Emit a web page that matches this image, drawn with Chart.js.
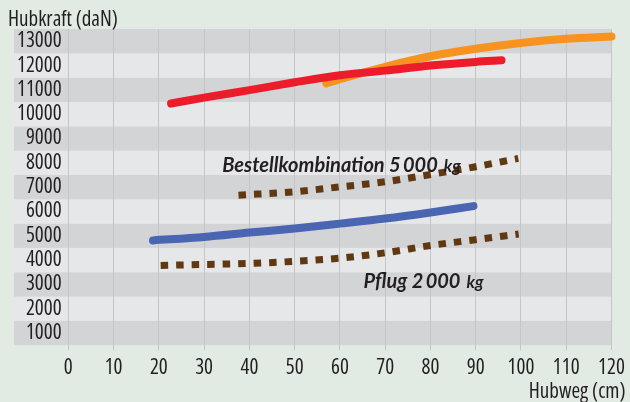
<!DOCTYPE html>
<html><head><meta charset="utf-8">
<script src="https://cdn.jsdelivr.net/npm/chart.js@4/dist/chart.umd.min.js"></script>
<style>html,body{margin:0;padding:0;background:#e1ebe4;}#wrap{width:630px;height:402px;}</style>
</head><body><div id="wrap"><canvas id="c" width="630" height="402"></canvas></div>
<script>
// ---- data ----
const xTicks = [0, 10, 20, 30, 40, 50, 60, 70, 80, 90, 100, 110, 120];
const yTicks = [1000, 2000, 3000, 4000, 5000, 6000, 7000, 8000, 9000, 10000, 11000, 12000, 13000];

const redX = [22.7, 30, 40, 50, 60, 70, 80, 90, 95.7];
const redY = [10440, 10680, 10990, 11310, 11600, 11790, 12000, 12150, 12215];

const orangeX = [57, 60, 70, 80, 90, 100, 110, 120];
const orangeY = [11265, 11440, 11950, 12380, 12690, 12930, 13100, 13190];

const blueX = [18.7, 30, 40, 50, 60, 70, 80, 89.5];
const blueY = [4810, 4950, 5130, 5300, 5500, 5710, 5960, 6220];

const bestellX = [37.6, 50, 60, 70, 80, 90, 99.4];
const bestellY = [6670, 6810, 7010, 7220, 7520, 7840, 8180];

const pflugX = [20.4, 30, 40, 50, 60, 70, 80, 90, 99.5];
const pflugY = [3780, 3820, 3860, 3950, 4080, 4300, 4600, 4840, 5070];

const labelMain = ['Bestellkombination 5\u2009000', 'Pflug 2\u2009000'];
const labelUnit = ['kg', 'kg'];

const yTitle = 'Hubkraft (daN)';
const xTitle = 'Hubweg (cm)';

// ---- build ----
const pts = (xs, ys) => xs.map((v, i) => ({x: v, y: ys[i]}));
const F = "'Open Sans', 'Noto Sans', sans-serif";
const W = 'condensed';   // font-stretch via the weight slot of the font shorthand
const TXT = '#231f20';

const bandsPlugin = {
  id: 'bands',
  beforeDraw(chart) {
    const {ctx, chartArea, scales: {x, y}} = chart;
    const right = x.getPixelForValue(xTicks[xTicks.length - 1]);
    ctx.save();
    yTicks.forEach(v => {
      const top = y.getPixelForValue(v + 500);
      const bot = y.getPixelForValue(v - 500);
      ctx.fillStyle = ((v / 1000) % 2 === 1) ? '#d3d4d6' : '#e6e7e9';
      ctx.fillRect(chartArea.left, top, right - chartArea.left, bot - top);
    });
    ctx.restore();
  }
};

const labelPlugin = {
  id: 'seriesLabels',
  afterDatasetsDraw(chart) {
    const {ctx, scales: {x, y}} = chart;
    const anchors = [{x: 34.0, y: 7605}, {x: 65.2, y: 2846}];
    ctx.save();
    ctx.fillStyle = TXT;
    ctx.textBaseline = 'alphabetic';
    ctx.textAlign = 'left';
    labelMain.forEach((t, i) => {
      const a = anchors[i];
      const px = x.getPixelForValue(a.x), py = y.getPixelForValue(a.y);
      ctx.font = "italic bold 20px Lato, 'Open Sans', sans-serif";
      ctx.fillText(t, px, py);
      const w = ctx.measureText(t).width;
      ctx.font = "italic bold 17px Lato, 'Open Sans', sans-serif";
      ctx.fillText(labelUnit[i], px + w + 6, py);
    });
    ctx.restore();
  }
};

const solid = (data, color) => ({
  data, borderColor: color, borderWidth: 8, borderCapStyle: 'round', pointRadius: 0,
  fill: false, cubicInterpolationMode: 'monotone'
});
const dotted = (data, color) => ({
  data, borderColor: color, borderWidth: 7, borderDash: [7.5, 8], borderCapStyle: 'butt', pointRadius: 0,
  fill: false, cubicInterpolationMode: 'monotone'
});

new Chart(document.getElementById('c'), {
  type: 'line',
  data: {
    datasets: [
      dotted(pts(pflugX, pflugY), '#603913'),
      dotted(pts(bestellX, bestellY), '#603913'),
      solid(pts(blueX, blueY), '#4a65b2'),
      solid(pts(redX, redY), '#ec1c2a'),
      solid(pts(orangeX, orangeY), '#f7931e')
    ]
  },
  options: {
    responsive: false,
    animation: false,
    devicePixelRatio: 1,
    layout: {padding: {left: 8, right: 4, top: 0, bottom: 0}},
    plugins: {
      legend: {display: false},
      tooltip: {enabled: false},
      title: {
        display: true, text: yTitle, align: 'start', color: TXT,
        font: {family: F, size: 21, weight: W, lineHeight: 0.86},
        padding: {top: 11, bottom: 0}
      }
    },
    scales: {
      x: {
        type: 'linear', min: -12, max: 123.1,
        afterBuildTicks: s => { s.ticks = xTicks.map(v => ({value: v})); },
        grid: {color: '#c4c5c7', lineWidth: 1, drawTicks: true, tickLength: 5},
        border: {display: false},
        ticks: {font: {family: F, size: 21, weight: W}, color: TXT, padding: 5, maxRotation: 0, autoSkip: false,
                callback: v => String(v)},
        title: {display: true, text: xTitle, align: 'end', color: TXT,
                font: {family: F, size: 21, weight: W, lineHeight: 0.6}, padding: {top: 0, bottom: 4}}
      },
      y: {
        type: 'linear', min: 500, max: 13500,
        afterBuildTicks: s => { s.ticks = yTicks.map(v => ({value: v})); },
        grid: {display: false, drawTicks: false},
        border: {display: false},
        ticks: {mirror: true, crossAlign: 'far', padding: 3, autoSkip: false,
                font: {family: F, size: 21, weight: W}, color: TXT,
                callback: v => String(v)}
      }
    }
  },
  plugins: [bandsPlugin, labelPlugin]
});
</script></body></html>
